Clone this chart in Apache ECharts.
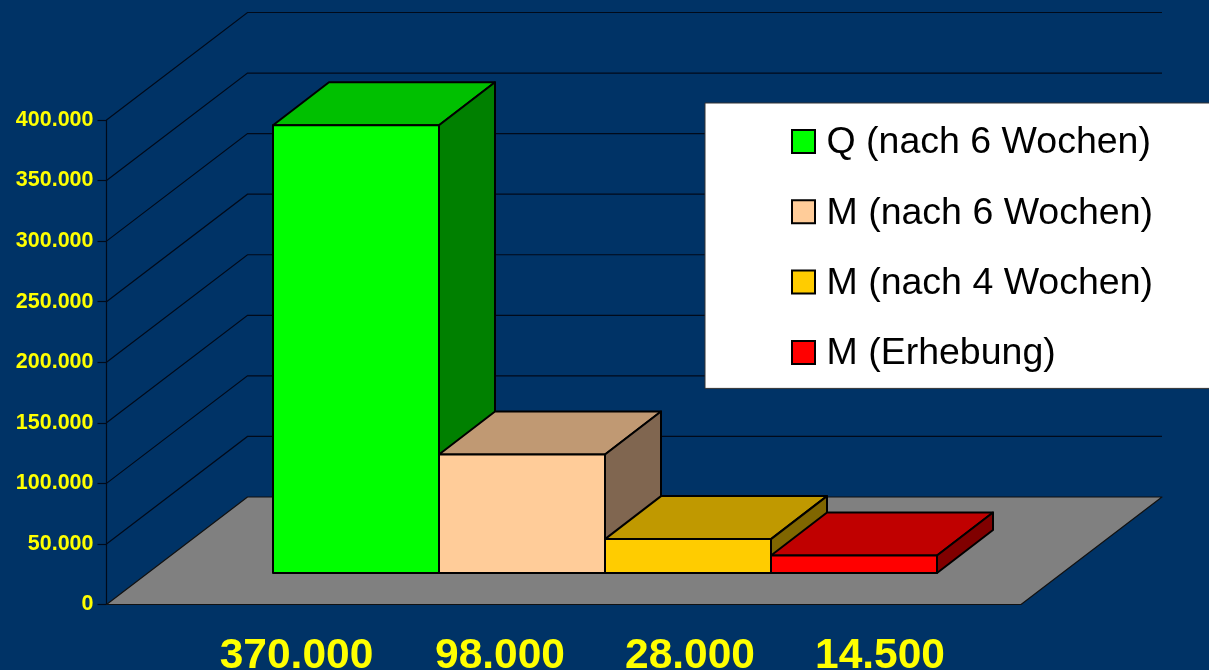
<!DOCTYPE html>
<html><head><meta charset="utf-8">
<style>html,body{margin:0;padding:0;background:#003366}#c{width:1209px;height:670px}</style>
<script src="https://cdn.jsdelivr.net/npm/echarts@6/dist/echarts.min.js"></script>
</head><body><div id="c"></div>
<script>
const seriesNames = ['Q (nach 6 Wochen)','M (nach 6 Wochen)','M (nach 4 Wochen)','M (Erhebung)'];
const barValues = [370000,98000,28000,14500];
const valueLabels = ['370.000','98.000','28.000','14.500'];
const yTicks = [0,50000,100000,150000,200000,250000,300000,350000,400000];
const frontColors = ['#00FF00','#FFCC99','#FFCC00','#FF0000'];
const topColors = ['#00C000','#C09973','#C09900','#C00000'];
const sideColors = ['#008000','#806650','#806600','#800000'];
const FONT = '"Liberation Sans", Arial, sans-serif';
const BAR_DEPTH = [56,-43], WALL_DEPTH = [141,-107.5];

const chart = echarts.init(document.getElementById('c'),null,{renderer:'canvas'});
const poly = (pts,fill,lw,stroke) => ({type:'polygon',shape:{points:pts},style:{fill,stroke:stroke||'#000',lineWidth:lw,lineJoin:'round'}});

function renderWall(params,api){
  const v = api.value(0);
  const a = api.coord([0,v]), b = api.coord([1,v]);
  const a2 = [a[0]+WALL_DEPTH[0],a[1]+WALL_DEPTH[1]], b2 = [b[0]+WALL_DEPTH[0],b[1]+WALL_DEPTH[1]];
  const children = [];
  if (v === 0) children.push(poly([a,a2,b2,b],'#808080',1.2,'#111'));
  else children.push({type:'polyline',shape:{points:[a,a2,b2]},style:{fill:null,stroke:'#000a1a',lineWidth:1.2}});
  return {type:'group',children};
}
function renderBar(i){
  return function(params,api){
    const p = api.coord([api.value(0),api.value(1)]);
    const base = api.coord([api.value(0),0]);
    const w = api.size([1,0])[0];
    const l = p[0]-w/2, r = p[0]+w/2, t = p[1], bt = base[1], dx = BAR_DEPTH[0], dy = BAR_DEPTH[1];
    return {type:'group',children:[
      poly([[l,t],[l+dx,t+dy],[r+dx,t+dy],[r,t]],topColors[i],2),
      poly([[r,t],[r+dx,t+dy],[r+dx,bt+dy],[r,bt]],sideColors[i],2),
      poly([[l,t],[r,t],[r,bt],[l,bt]],frontColors[i],2)
    ]};
  };
}

const option = {
  backgroundColor:'#003366',
  animation:false,
  grid:[
    {left:106.5,width:914.5,top:120,height:484.5,outerBoundsMode:'none'},
    {left:273,width:664,top:89,height:484,outerBoundsMode:'none'},
    {left:215,width:760,top:120,height:484.5,outerBoundsMode:'none'}
  ],
  xAxis:[
    {gridIndex:0,type:'value',min:0,max:1,show:false},
    {gridIndex:1,type:'category',data:seriesNames,show:false},
    {gridIndex:2,type:'category',
      data:valueLabels.map((v,i)=> i===0 ? {value:v,textStyle:{padding:[0,27,0,0]}} : v),
      axisLine:{show:false},axisTick:{show:false},
      axisLabel:{color:'#FFFF00',fontFamily:FONT,fontWeight:'bold',fontSize:42.5,margin:30,interval:0}}
  ],
  yAxis:[
    {gridIndex:0,type:'value',min:0,max:400000,interval:50000,
      axisLine:{show:true,lineStyle:{color:'#000a1a',width:1.2}},
      axisTick:{show:true,length:9,lineStyle:{color:'#000a1a',width:1.2}},
      splitLine:{show:false},
      axisLabel:{color:'#FFFF00',fontFamily:FONT,fontWeight:'bold',fontSize:21.5,margin:13,
        formatter:v=>String(v).replace(/\B(?=(\d{3})+$)/g,'.')}},
    {gridIndex:1,type:'value',min:0,max:400000,show:false},
    {gridIndex:2,type:'value',min:0,max:1,show:false}
  ],
  legend:{
    left:705,top:103,orient:'vertical',align:'left',
    data:seriesNames,
    icon:'rect',itemWidth:23,itemHeight:23,itemGap:32.3,
    backgroundColor:'#fff',borderColor:'#333',borderWidth:1,borderRadius:0,
    padding:[21,58,15.5,86],
    selectedMode:false,
    itemStyle:{borderColor:'#000',borderWidth:2},
    formatter:n=>'{t|'+n+'}',
    textStyle:{color:'#000',fontFamily:FONT,fontSize:37.5,
      rich:{t:{color:'#000',fontFamily:FONT,fontSize:37.5,padding:[3,0,0,6.5]}}}
  },
  series:[
    {type:'custom',name:'walls',xAxisIndex:0,yAxisIndex:0,silent:true,data:yTicks.map(v=>[v]),
      encode:{y:0},renderItem:renderWall,clip:false},
    ...seriesNames.map((n,i)=>({
      type:'custom',name:n,xAxisIndex:1,yAxisIndex:1,clip:false,
      itemStyle:{color:frontColors[i]},
      data:[[i,barValues[i]]],encode:{x:0,y:1},renderItem:renderBar(i)
    }))
  ]
};
chart.setOption(option);
</script></body></html>
